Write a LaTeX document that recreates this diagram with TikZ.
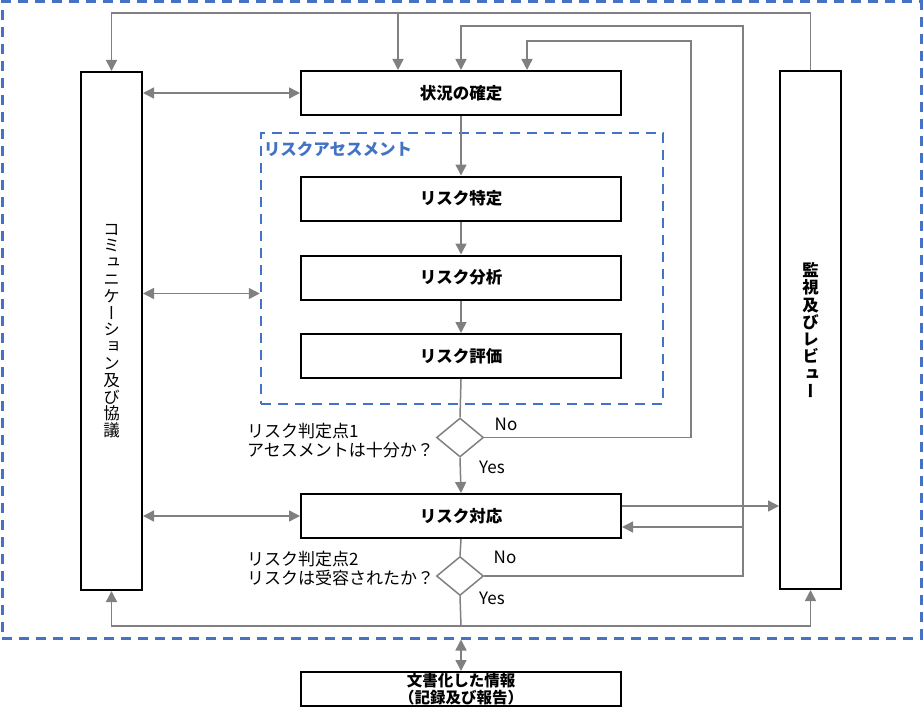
\documentclass[tikz,border=0pt]{standalone}
\usepackage{fontspec}
\setmainfont{Noto Sans CJK JP}
\newfontfamily\vjp[RawFeature=+vert]{Noto Sans CJK JP}
\usetikzlibrary{arrows.meta,shapes.geometric}
\definecolor{linegray}{RGB}{128,128,128}
\definecolor{dashblue}{RGB}{68,114,196}

\begin{document}
\begin{tikzpicture}[x=1pt,y=-1pt,
  flowbox/.style={draw=black,line width=2pt,minimum width=320pt,minimum height=44pt,inner sep=0pt,font=\bfseries\fontsize{16.5}{19}\selectfont},
  sidebox/.style={draw=black,line width=2pt,minimum width=61pt,minimum height=518pt,inner sep=0pt,align=center},
  decide/.style={diamond,draw=linegray,line width=1.5pt,minimum width=47pt,minimum height=39pt,inner sep=0pt},
  dashframe/.style={draw=dashblue,line width=3pt,dash pattern=on 10pt off 7pt,inner sep=0pt},
  conn/.style={draw=linegray,line width=1.5pt},
  arr/.style={conn,-{Triangle[length=11pt,width=11pt]}},
  biarr/.style={conn,{Triangle[length=11pt,width=11pt]}-{Triangle[length=11pt,width=11pt]}},
  lbl/.style={font=\fontsize{17}{19}\selectfont,inner sep=0pt}]
\useasboundingbox (0,0) rectangle (923,717);

% frames
\node[dashframe,minimum width=919pt,minimum height=636pt] (outer) at (461.5,320) {};
\node[dashframe,line width=2.5pt,minimum width=402pt,minimum height=271pt] (asmt) at (462,268.5) {};
\node[anchor=north west,inner sep=0pt,text=dashblue,font=\bfseries\fontsize{16.5}{19}\selectfont] (asmtlbl) at ([xshift=4pt,yshift=-10pt]asmt.north west) {リスクアセスメント};

% process boxes
\node[flowbox] (ctx) at (461,93) {状況の確定};
\node[flowbox] (idf) at (461,198.5) {リスク特定};
\node[flowbox] (ana) at (461,277.5) {リスク分析};
\node[flowbox] (evl) at (461,356) {リスク評価};
\node[flowbox] (trt) at (461,516) {リスク対応};
\node[flowbox,minimum height=34pt,align=center,font=\bfseries\fontsize{15.5}{16.5}\selectfont] (doc) at (461,689) {文書化した情報\\（記録及び報告）};

% side boxes
\node[sidebox,font=\vjp\fontsize{16.5}{16.8}\selectfont] (com) at (111.5,331) {コ\\ミ\\ュ\\ニ\\ケ\\ー\\シ\\ョ\\ン\\及\\び\\協\\議};
\node[sidebox,font=\vjp\bfseries\fontsize{16.5}{17.3}\selectfont] (mon) at (810.5,330) {監\\視\\及\\び\\レ\\ビ\\ュ\\ー};

% decisions
\node[decide] (dec1) at (460,437.5) {};
\node[decide] (dec2) at (460,576) {};
\node[lbl,anchor=west,align=left] (q1) at (247,441) {リスク判定点1\\アセスメントは十分か？};
\node[lbl,anchor=west,align=left] (q2) at (247,569) {リスク判定点2\\リスクは受容されたか？};
\node[lbl] (no1) at (506,424) {No};
\node[lbl] (yes1) at (492,467) {Yes};
\node[lbl] (no2) at (505,557) {No};
\node[lbl] (yes2) at (492,598) {Yes};

% main flow
\draw[arr] (ctx.south) -- (idf.north);
\draw[arr] (idf.south) -- (ana.north);
\draw[arr] (ana.south) -- (evl.north);
\draw[conn] (evl.south) -- (dec1.north);
\draw[arr] (dec1.south) -- (trt.north);
\draw[conn] (trt.south) -- (dec2.north);

% loops back
\coordinate (top) at (398,14);
\draw[arr] (mon.north) -- ++(0,-57) -| (com.north);
\draw[arr] (top) -- (top |- ctx.north);
\coordinate (r2) at (743,26);
\draw[arr] (dec2.east) -| (r2) -| (ctx.north);
\coordinate (fb) at (743,527);
\draw[arr] (fb) -- (fb -| trt.east);
\coordinate (r1) at (691,41);
\draw[arr] (dec1.east) -| (r1) -| ([xshift=66pt]ctx.north);
\draw[arr] ([yshift=10pt]trt.east) -- ([yshift=10pt]trt.east -| mon.west);

% bottom
\coordinate (bt) at (461,626);
\draw[conn] (dec2.south) -- (bt);
\draw[arr] (bt) -| (com.south);
\draw[arr] (bt) -| (mon.south);
\draw[biarr] (doc.north |- outer.south) -- (doc.north);

% communication
\coordinate (mid) at ([yshift=-25pt]asmt.west);
\draw[biarr] (com.east |- ctx.west) -- (ctx.west);
\draw[biarr] (com.east |- mid) -- (mid);
\draw[biarr] (com.east |- trt.west) -- (trt.west);
\end{tikzpicture}
\end{document}
